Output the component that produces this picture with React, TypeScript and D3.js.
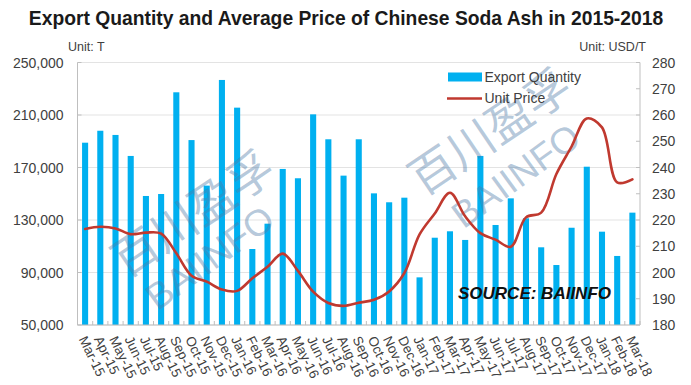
import React from "react";
import * as d3 from "d3";

const months = [
  "Mar-15","Apr-15","May-15","Jun-15","Jul-15","Aug-15","Sep-15","Oct-15","Nov-15","Dec-15",
  "Jan-16","Feb-16","Mar-16","Apr-16","May-16","Jun-16","Jul-16","Aug-16","Sep-16","Oct-16","Nov-16","Dec-16",
  "Jan-17","Feb-17","Mar-17","Apr-17","May-17","Jun-17","Jul-17","Aug-17","Sep-17","Oct-17","Nov-17","Dec-17",
  "Jan-18","Feb-18","Mar-18",
];

const exportQuantity = [
  188900, 198000, 194800, 178800, 148300, 149800, 227300, 190900, 156200, 236700,
  215600, 107900, 127200, 168900, 161800, 210500, 191500, 163800, 191500, 150300, 143500, 147000,
  86300, 116500, 121400, 114800, 178800, 126200, 146500, 131300, 109200, 95700, 124100, 170600,
  121100, 102600, 135600,
];

const unitPrice = [
  216.6, 217.4, 216.8, 214.6, 215.2, 214.8, 207.3, 198.8, 196.5, 193.5,
  193.0, 197.8, 202.2, 207.2, 200.6, 192.7, 188.4, 187.3, 188.5, 189.6, 192.8, 199.8,
  214.5, 222.5, 230.4, 221.4, 215.0, 212.5, 209.8, 221.0, 222.8, 237.5, 248.0, 258.7,
  255.3, 234.3, 235.5,
];

const leftTicks = [50000, 90000, 130000, 170000, 210000, 250000];
const rightTicks = [180, 190, 200, 210, 220, 230, 240, 250, 260, 270, 280];

const FONT = "'Liberation Sans', Arial, Helvetica, sans-serif";

export default function App() {
  const W = 691, H = 385;
  const left = 77.5, right = 640, top = 62.5, bottom = 325;

  const x = d3.scaleBand<string>().domain(months).range([left, right]).paddingInner(0.6).paddingOuter(0.3);
  const step = x.step();
  const cx = (m: string) => (x(m) as number) + x.bandwidth() / 2;
  const yL = d3.scaleLinear().domain([50000, 250000]).range([bottom, top]);
  const yR = d3.scaleLinear().domain([180, 280]).range([bottom, top]);

  const line = d3
    .line<number>()
    .x((_, i) => cx(months[i]))
    .y((d) => yR(d))
    .curve(d3.curveCatmullRom.alpha(0.5));

  const fmt = d3.format(",");
  const axisColor = "#bfbfbf";
  const textColor = "#404040";

  const boundaries = d3.range(months.length + 1).map((i) => left + i * step);

  return (
    <svg width={W} height={H} style={{ position: "absolute", left: 0, top: 0, background: "#fff" }} fontFamily={FONT}>
      <rect x={0} y={0} width={W} height={H} fill="#fff" />
      {/* Title */}
      <text x={346} y={25} textAnchor="middle" fontSize={19.3} fontWeight="bold" fill="#1a1a1a">
        Export Quantity and Average Price of Chinese Soda Ash in 2015-2018
      </text>
      <text x={68} y={51} fontSize={12.5} fill={textColor}>Unit: T</text>
      <text x={646} y={51} fontSize={12.5} fill={textColor} textAnchor="end">Unit: USD/T</text>

      {/* Gridlines */}
      {leftTicks.map((t) => (
        <line key={"g" + t} x1={left} x2={right} y1={yL(t)} y2={yL(t)} stroke="#e3e3e3" strokeWidth={1} />
      ))}

      {/* Bars */}
      {exportQuantity.map((v, i) => (
        <rect key={"b" + i} x={x(months[i])} y={yL(v)} width={x.bandwidth()} height={bottom - yL(v)} fill="#00b0f0" />
      ))}

      {/* Axes */}
      <line x1={left} x2={left} y1={top} y2={bottom} stroke={axisColor} />
      <line x1={right} x2={right} y1={top} y2={bottom} stroke={axisColor} />
      <line x1={left} x2={right} y1={bottom} y2={bottom} stroke={axisColor} />
      {boundaries.map((bx, i) => (
        <line key={"xt" + i} x1={bx} x2={bx} y1={bottom} y2={bottom - 4} stroke={axisColor} />
      ))}
      {rightTicks.map((t) => (
        <line key={"rt" + t} x1={right - 4} x2={right} y1={yR(t)} y2={yR(t)} stroke={axisColor} />
      ))}
      {leftTicks.map((t) => (
        <line key={"lt" + t} x1={left} x2={left + 4} y1={yL(t)} y2={yL(t)} stroke={axisColor} />
      ))}

      {/* Left tick labels */}
      {leftTicks.map((t) => (
        <text key={"ll" + t} x={63.5} y={yL(t) + 5} textAnchor="end" fontSize={14} fill={textColor}>
          {fmt(t)}
        </text>
      ))}
      {/* Right tick labels */}
      {rightTicks.map((t) => (
        <text key={"rl" + t} x={652} y={yR(t) + 5} fontSize={14} fill={textColor}>
          {t}
        </text>
      ))}
      {/* X labels */}
      {months.map((m) => (
        <text
          key={"xl" + m}
          transform={`translate(${cx(m) - 6.5},${bottom + 14}) rotate(64)`}
          fontSize={13.5}
          fill={textColor}
        >
          {m}
        </text>
      ))}

      {/* Watermarks */}
      <g fill="#4f7ca8" fillOpacity={0.42}>
        <text transform="translate(191,211) rotate(-34)" textAnchor="middle" dominantBaseline="central"
          fontSize={46} fontFamily="'Noto Sans CJK SC', sans-serif">百川盈孚</text>
        <text transform="translate(210,258) rotate(-36)" textAnchor="middle" dominantBaseline="central"
          fontSize={37}>BAIINFO</text>
        <text transform="translate(488,129) rotate(-34)" textAnchor="middle" dominantBaseline="central"
          fontSize={46} fontFamily="'Noto Sans CJK SC', sans-serif">百川盈孚</text>
        <text transform="translate(516,176) rotate(-36)" textAnchor="middle" dominantBaseline="central"
          fontSize={37}>BAIINFO</text>
      </g>

      {/* Price line */}
      <path d={line(unitPrice) || ""} fill="none" stroke="#c0392f" strokeWidth={2.6} strokeLinejoin="round" strokeLinecap="round" />

      {/* Legend */}
      <rect x={448} y={72.5} width={34} height={9} fill="#00b0f0" />
      <text x={484.5} y={82} fontSize={14} fill={textColor}>Export Quantity</text>
      <line x1={447} x2={482} y1={98.5} y2={98.5} stroke="#c0392f" strokeWidth={2.6} />
      <text x={484.5} y={103} fontSize={14} fill={textColor}>Unit Price</text>

      {/* Source */}
      <text x={458} y={299} fontSize={17} fontWeight="bold" fontStyle="italic" fill="#111">SOURCE: BAIINFO</text>
    </svg>
  );
}
